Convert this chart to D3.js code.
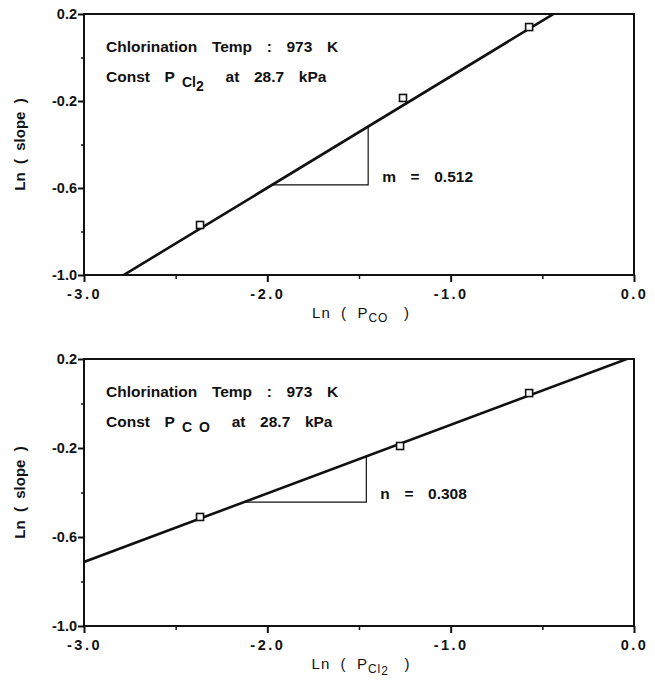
<!DOCTYPE html>
<html><head><meta charset="utf-8">
<script src="https://cdn.jsdelivr.net/npm/d3@7"></script>
<style>
body{margin:0;background:#fff;}
text{font-family:"Liberation Sans",Arial,sans-serif;fill:#111;white-space:pre;}
</style></head>
<body><svg id="c" width="655" height="680"></svg>
<script>
// ---- data ----
const xTickVals = [-3, -2, -1, 0];
const xTickLabels = ["-3.0", "-2.0", "-1.0", "0.0"];
const xMinorVals = [-2.5, -1.5, -0.5];
const yTickVals = [0.2, -0.2, -0.6, -1.0];
const yTickLabels = ["0.2", "-0.2", "-0.6", "-1.0"];
const yMinorVals = [0.0, -0.4, -0.8];

const coX = [-2.367, -1.26, -0.572];
const coY = [-0.770, -0.186, 0.140];
const cl2X = [-2.367, -1.276, -0.572];
const cl2Y = [-0.510, -0.191, 0.047];

const fitSlopes = [0.512, 0.308];
const fitIntercepts = [0.425, 0.212];
const triStart = [-1.974, -2.127];
const triEnd = [-1.45, -1.46];
const slopeNames = ["m", "n"];
const slopeTexts = ["0.512", "0.308"];
const constSub = [["Cl", "2"], ["C O", ""]];
const axisSub = [["CO", ""], ["Cl", "2"]];

const panels = [
  {xs: coX, ys: coY, top: 14, bottom: 275},
  {xs: cl2X, ys: cl2Y, top: 359, bottom: 626}
];
const L = 84, R = 634;
const svg = d3.select("#c");

panels.forEach((p, i) => {
  const x = d3.scaleLinear().domain([-3, 0]).range([L, R]);
  const y = d3.scaleLinear().domain([-1.0, 0.2]).range([p.bottom, p.top]);
  const g = svg.append("g");

  g.append("clipPath").attr("id", "clip" + i).append("rect")
    .attr("x", L).attr("y", p.top).attr("width", R - L).attr("height", p.bottom - p.top);

  // frame
  g.append("rect").attr("x", L).attr("y", p.top).attr("width", R - L).attr("height", p.bottom - p.top)
    .attr("fill", "none").attr("stroke", "#111").attr("stroke-width", 2);

  // x axis
  const xa = g.append("g").attr("transform", `translate(0,${p.bottom})`)
    .call(d3.axisBottom(x).tickValues(xTickVals).tickSize(7).tickPadding(7)
      .tickFormat((d, k) => xTickLabels[k]));
  xa.select(".domain").remove();
  xa.selectAll("line").attr("stroke", "#111").attr("stroke-width", 2);
  xa.selectAll("text").attr("font-size", 14.5).attr("font-weight", "bold")
    .style("letter-spacing", "2.5px").attr("font-family", "Liberation Sans, Arial");
  const xm = g.append("g").attr("transform", `translate(0,${p.bottom})`)
    .call(d3.axisBottom(x).tickValues(xMinorVals).tickSize(4).tickFormat(""));
  xm.select(".domain").remove();
  xm.selectAll("line").attr("stroke", "#111").attr("stroke-width", 1.5);

  // y axis
  const ya = g.append("g").attr("transform", `translate(${L},0)`)
    .call(d3.axisLeft(y).tickValues(yTickVals).tickSize(6).tickPadding(1)
      .tickFormat((d, k) => yTickLabels[k]));
  ya.select(".domain").remove();
  ya.selectAll("line").attr("stroke", "#111").attr("stroke-width", 2);
  ya.selectAll("text").attr("font-size", 14.5).attr("font-weight", "bold")
    .attr("font-family", "Liberation Sans, Arial");
  const ym = g.append("g").attr("transform", `translate(${L},0)`)
    .call(d3.axisLeft(y).tickValues(yMinorVals).tickSize(3).tickFormat(""));
  ym.select(".domain").remove();
  ym.selectAll("line").attr("stroke", "#111").attr("stroke-width", 1.5);

  // fit line
  const fx = [-3, 0];
  const line = d3.line().x(d => x(d)).y(d => y(fitSlopes[i] * d + fitIntercepts[i]));
  g.append("path").attr("d", line(fx)).attr("clip-path", `url(#clip${i})`)
    .attr("fill", "none").attr("stroke", "#111").attr("stroke-width", 2.6);

  // slope triangle
  const y0 = fitSlopes[i] * triStart[i] + fitIntercepts[i];
  const y1 = fitSlopes[i] * triEnd[i] + fitIntercepts[i];
  g.append("path")
    .attr("d", `M${x(triStart[i])},${y(y0)}H${x(triEnd[i])}V${y(y1)}`)
    .attr("fill", "none").attr("stroke", "#111").attr("stroke-width", 1.2);
  g.append("text").attr("x", x(triEnd[i]) + 14).attr("y", y(y0) - 3)
    .attr("font-size", 15.5).attr("font-weight", "bold").style("word-spacing", "3px")
    .text(`${slopeNames[i]}  =  ${slopeTexts[i]}`);

  // points
  g.selectAll("rect.pt").data(p.xs.map((v, k) => [v, p.ys[k]])).enter()
    .append("rect").attr("class", "pt")
    .attr("x", d => x(d[0]) - 3.5).attr("y", d => y(d[1]) - 3.5)
    .attr("width", 7).attr("height", 7)
    .attr("fill", "#fff").attr("stroke", "#111").attr("stroke-width", 1.6);

  // annotations
  const tx = L + 22;
  g.append("text").attr("x", tx).attr("y", y(0.2) + 38)
    .attr("font-size", 15.5).attr("font-weight", "bold").style("word-spacing", "3px")
    .text("Chlorination  Temp  :  973  K");
  const t2 = g.append("text").attr("x", tx).attr("y", y(0.2) + 68)
    .attr("font-size", 15.5).attr("font-weight", "bold").style("word-spacing", "3px");
  t2.append("tspan").text("Const  P ");
  t2.append("tspan").attr("dy", 5).attr("font-size", 14).text(constSub[i][0]);
  if (constSub[i][1]) t2.append("tspan").attr("dy", 4).attr("font-size", 14).text(constSub[i][1]);
  t2.append("tspan").attr("dy", constSub[i][1] ? -9 : -5).text("   at  28.7  kPa");

  // x title
  const xt = g.append("text").attr("x", (L + R) / 2 + 2).attr("y", p.bottom + 43)
    .attr("text-anchor", "middle").attr("font-size", 15).style("letter-spacing", "1px");
  xt.append("tspan").text("Ln  (  P");
  xt.append("tspan").attr("dy", 4).attr("font-size", 12).text(axisSub[i][0]);
  if (axisSub[i][1]) xt.append("tspan").attr("dy", 2).attr("font-size", 12).text(axisSub[i][1]);
  xt.append("tspan").attr("dy", axisSub[i][1] ? -6 : -4).text("   )");

  // y title
  g.append("text").attr("transform", `translate(25,${(p.top + p.bottom) / 2})rotate(-90)`)
    .attr("text-anchor", "middle").attr("font-size", 15).attr("font-weight", "bold")
    .text("Ln  (  slope  )");
});
</script></body></html>
